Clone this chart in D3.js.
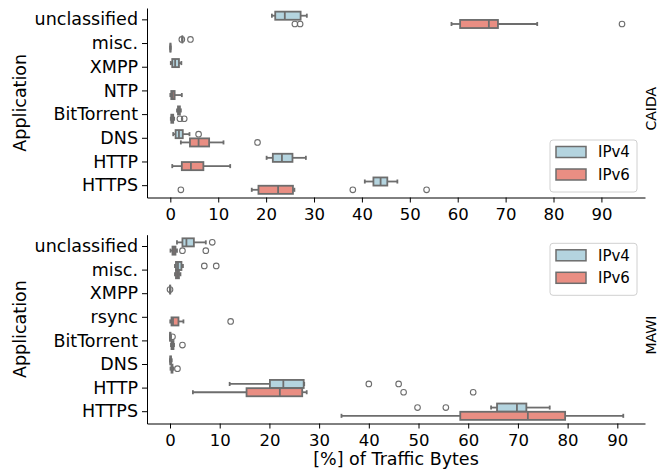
<!DOCTYPE html>
<html><head><meta charset="utf-8">
<script src="https://cdn.jsdelivr.net/npm/d3@7"></script>
<style>body{margin:0;background:#fff} text{font-family:"DejaVu Sans",sans-serif}</style>
</head><body><svg id="c" width="660" height="475"></svg>
<script>
// ---------- data (box stats: [whisker low, q1, median, q3, whisker high]) ----------
const hues = ["IPv4", "IPv6"];
const xTicks = [0, 10, 20, 30, 40, 50, 60, 70, 80, 90];

const caidaCategories = ["unclassified", "misc.", "XMPP", "NTP", "BitTorrent", "DNS", "HTTP", "HTTPS"];
const caidaIPv4 = [
  [21.2, 21.9, 23.9, 27.2, 28.5],
  [2.5, 2.5, 2.5, 2.5, 2.5],
  [0.1, 0.4, 1.0, 1.8, 2.3],
  null,
  [1.4, 1.6, 1.8, 2.0, 2.2],
  [0.6, 1.1, 1.8, 2.6, 4.0],
  [20.1, 21.4, 23.3, 25.5, 28.3],
  [40.6, 42.4, 43.9, 45.3, 47.4]
];
const caidaIPv4Fliers = [[], [2.4, 4.2], [], [], [], [5.9], [], []];
const caidaIPv6 = [
  [58.7, 60.5, 66.5, 68.4, 76.6],
  [0.0, 0.0, 0.02, 0.05, 0.05],
  null,
  [0.0, 0.2, 0.5, 0.9, 2.4],
  [0.1, 0.2, 0.4, 0.6, 0.8],
  [2.2, 4.1, 5.9, 8.1, 11.1],
  [0.4, 2.4, 4.3, 6.9, 12.5],
  [17.0, 18.4, 22.5, 25.6, 25.9]
];
const caidaIPv6Fliers = [[26.0, 27.1, 94.3], [], [], [], [2.0, 2.9], [18.2], [], [2.2, 38.1, 53.5]];

const mawiCategories = ["unclassified", "misc.", "XMPP", "rsync", "BitTorrent", "DNS", "HTTP", "HTTPS"];
const mawiIPv4 = [
  [1.4, 2.5, 3.3, 4.8, 7.2],
  [1.0, 1.2, 1.6, 2.3, 2.6],
  [0.0, 0.0, 0.0, 0.05, 0.1],
  null,
  [0.0, 0.0, 0.05, 0.1, 0.2],
  [0.0, 0.05, 0.1, 0.2, 0.35],
  [12.0, 20.1, 22.8, 26.9, 27.0],
  [64.6, 65.8, 69.8, 71.7, 76.4]
];
const mawiIPv4Fliers = [[8.5], [6.9, 9.3], [0.0], [], [0.5], [], [40.0, 46.0], [49.8, 55.5]];
const mawiIPv6 = [
  [0.1, 0.5, 0.8, 1.1, 1.4],
  [1.0, 1.2, 1.5, 1.8, 2.1],
  null,
  [0.05, 0.3, 0.6, 1.7, 2.7],
  [0.2, 0.3, 0.5, 0.7, 0.8],
  [0.1, 0.3, 0.4, 0.5, 0.7],
  [4.6, 15.4, 22.1, 26.6, 27.5],
  [34.5, 58.4, 72.0, 79.5, 91.2]
];
const mawiIPv6Fliers = [[2.5, 7.2], [], [], [12.2], [2.5], [1.5], [47.0, 61.0], []];

// ---------- styling / layout ----------
const fills = {IPv4: "#b4d4df", IPv6: "#e98e83"};
const gray = "#6d6d6d";
const left = 147, right = 645;

const panels = [
  {name: "CAIDA", cats: caidaCategories, series: [caidaIPv4, caidaIPv6], fliers: [caidaIPv4Fliers, caidaIPv6Fliers],
   xDomain: [-4.87, 99.1], top: 8, bottom: 197.5, legendTop: 140},
  {name: "MAWI", cats: mawiCategories, series: [mawiIPv4, mawiIPv6], fliers: [mawiIPv4Fliers, mawiIPv6Fliers],
   xDomain: [-4.63, 95.57], top: 234.7, bottom: 423.5, legendTop: 243.3}
];

const svg = d3.select("#c");

panels.forEach((p, pi) => {
  const x = d3.scaleLinear().domain(p.xDomain).range([left, right]);
  const y = d3.scaleBand().domain(p.cats).range([p.top, p.bottom]).padding(0);
  const bw = y.bandwidth();
  const g = svg.append("g");

  // boxes
  hues.forEach((h, hi) => {
    const off = (hi - 0.5) * 0.35 * bw;
    const bh = 0.35 * bw * 0.98;
    p.cats.forEach((c, ci) => {
      const s = p.series[hi][ci];
      const cy = y(c) + bw / 2 + off;
      if (s) {
        const [lo, q1, md, q3, hiV] = s;
        const bg = g.append("g").attr("stroke", gray).attr("stroke-width", 1.8);
        bg.append("line").attr("x1", x(lo)).attr("x2", x(q1)).attr("y1", cy).attr("y2", cy);
        bg.append("line").attr("x1", x(q3)).attr("x2", x(hiV)).attr("y1", cy).attr("y2", cy);
        bg.append("line").attr("x1", x(lo)).attr("x2", x(lo)).attr("y1", cy - bh / 4).attr("y2", cy + bh / 4);
        bg.append("line").attr("x1", x(hiV)).attr("x2", x(hiV)).attr("y1", cy - bh / 4).attr("y2", cy + bh / 4);
        bg.append("rect").attr("x", x(q1)).attr("width", Math.max(0, x(q3) - x(q1)))
          .attr("y", cy - bh / 2).attr("height", bh).attr("fill", fills[h]);
        bg.append("line").attr("x1", x(md)).attr("x2", x(md)).attr("y1", cy - bh / 2).attr("y2", cy + bh / 2);
      }
      g.selectAll(null).data(p.fliers[hi][ci]).enter().append("circle")
        .attr("cx", d => x(d)).attr("cy", cy).attr("r", 2.8)
        .attr("fill", "none").attr("stroke", gray).attr("stroke-width", 1.1);
    });
  });

  // axes
  const ya = g.append("g").attr("transform", `translate(${left},0)`)
    .call(d3.axisLeft(y).tickSize(5).tickSizeOuter(0).tickPadding(4));
  ya.selectAll("text").attr("font-size", 17.5).attr("fill", "#000").attr("font-family", "DejaVu Sans");
  ya.selectAll("line").attr("stroke", "#000");
  ya.select(".domain").attr("stroke", "#000");

  const xa = g.append("g").attr("transform", `translate(0,${p.bottom})`)
    .call(d3.axisBottom(x).tickValues(xTicks).tickSize(5).tickSizeOuter(0).tickPadding(6));
  xa.selectAll("text").attr("font-size", 16.5).attr("fill", "#000").attr("font-family", "DejaVu Sans");
  xa.selectAll("line").attr("stroke", "#000");
  xa.select(".domain").attr("stroke", "#000");

  // y label
  const cyMid = (p.top + p.bottom) / 2;
  g.append("text").attr("transform", `translate(26,${cyMid}) rotate(-90)`)
    .attr("text-anchor", "middle").attr("font-size", 17.5).text("Application");

  // margin title
  g.append("text").attr("transform", `translate(656,${cyMid + 6}) rotate(-90)`)
    .attr("text-anchor", "middle").attr("font-size", 14).text(p.name);

  // legend
  const lg = g.append("g").attr("transform", `translate(550,${p.legendTop})`);
  lg.append("rect").attr("width", 87).attr("height", 52).attr("rx", 3)
    .attr("fill", "#fff").attr("fill-opacity", 0.8).attr("stroke", "#d0d0d0");
  hues.forEach((h, hi) => {
    const ly = 12 + hi * 22.5;
    lg.append("rect").attr("x", 6).attr("y", ly - 5.5).attr("width", 30).attr("height", 11)
      .attr("fill", fills[h]).attr("stroke", gray).attr("stroke-width", 1.5);
    lg.append("text").attr("x", 48).attr("y", ly).attr("dy", "0.36em").attr("font-size", 15).text(h);
  });
});

svg.append("text").attr("x", (left + right) / 2).attr("y", 465).attr("text-anchor", "middle")
  .attr("font-size", 17.5).text("[%] of Traffic Bytes");
</script></body></html>
